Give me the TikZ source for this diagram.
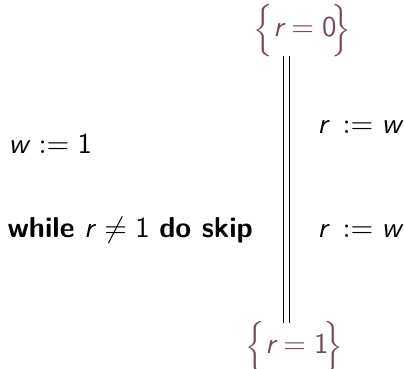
\documentclass[tikz,border=0pt]{standalone}
\usepackage{amsmath}
\usepackage{graphicx}
\definecolor{hoare}{RGB}{120,72,94}
\newcommand{\mvar}[1]{\textsf{\itshape #1}}
\newcommand{\mnum}[1]{\textsf{#1}}
\newcommand{\lbr}{\mathopen{\raisebox{-0.7pt}{$\Bigl\{$}}}
\newcommand{\rbr}{\mathclose{\raisebox{-0.7pt}{$\Bigr\}$}}}
\tikzset{
  lbl/.style={inner sep=0pt, font=\sffamily\fontsize{10.8}{13}\selectfont, anchor=base west},
  cond/.style={inner sep=0pt, text=hoare, font=\sffamily\fontsize{10.8}{13}\selectfont, anchor=base},
  dline/.style={draw=black, double, double distance=1.7pt, line width=0.4pt}
}
\begin{document}
\begin{tikzpicture}[x=0.375pt, y=-0.375pt]
\useasboundingbox (0,0) rectangle (405,369);
\node[cond] (pre) at (302.5,36) {$\lbr\mvar{r}=\mnum{0}\!\rbr$};
\node[cond] (post) at (294.5,353) {$\lbr\mvar{r}=\mnum{1}\!\rbr$};
\coordinate (top) at (286.5,55.5);
\coordinate (bot) at (286.5,323);
\draw[dline] (top) -- (bot);
\node[lbl] (a1) at (8,153) {\mvar{w}${}\mathrel{:=}{}$1};
\node[lbl] (a2) at (7,237) {\textbf{while} \mvar{r}${}\neq{}$1 \textbf{do skip}};
\node[lbl] (b1) at (317,133) {\mvar{r}\,${}\mathrel{:=}{}$\mvar{w}};
\node[lbl] (b2) at (317,237) {\mvar{r}\,${}\mathrel{:=}{}$\mvar{w}};
\end{tikzpicture}
\end{document}
